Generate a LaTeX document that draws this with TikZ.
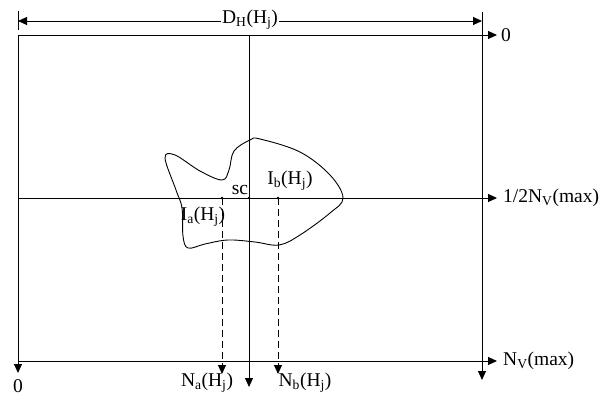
\documentclass[tikz,border=0pt]{standalone}
\usepackage{fontspec}
\setmainfont{Liberation Serif}
\usetikzlibrary{arrows.meta}
\tikzset{
  ln/.style={line width=0.9pt},
  arr/.style={ln,-{Triangle[length=9pt,width=8pt]}},
  dimarr/.style={ln,{Triangle[length=9pt,width=8pt]}-{Triangle[length=9pt,width=8pt]}},
  dsh/.style={arr,dash pattern=on 7pt off 4pt},
  lbl/.style={inner sep=0pt,font=\fontsize{19.5}{19.5}\selectfont}
}
\newcommand{\sbs}[1]{\textsubscript{#1}}
\begin{document}
\begin{tikzpicture}[x=1pt,y=-1pt]
\useasboundingbox (0,0) rectangle (608,396);
% coordinates
\coordinate (tl) at (18,35);
\coordinate (tr) at (497,35);
\coordinate (lb) at (18,373);
\coordinate (rtop) at (482,12);
\coordinate (rb) at (482,380);
\coordinate (mtop) at (249,35);
\coordinate (mb) at (249,387);
\coordinate (ml) at (18,198);
\coordinate (mr) at (497,198);
\coordinate (bl) at (18,361);
\coordinate (br) at (497,361);
\coordinate (da) at (222,198);
\coordinate (dae) at (222,374);
\coordinate (db) at (278,198);
\coordinate (dbe) at (278,374);
\coordinate (dl) at (18,21);
\coordinate (dr) at (482,21);
\coordinate (tk1) at (18,11);
\coordinate (tk2) at (18,30);
% frame lines
\draw[arr] (tl) -- (tr);
\draw[arr] (tl) -- (lb);
\draw[arr] (rtop) -- (rb);
\draw[arr] (mtop) -- (mb);
\draw[arr] (ml) -- (mr);
\draw[arr] (bl) -- (br);
\draw[ln] (tk1) -- (tk2);
\draw[dimarr] (dl) -- (dr);
\draw[dsh] (da) -- (dae);
\draw[dsh] (db) -- (dbe);
% dots
\fill (da) circle (1.3);
\fill (db) circle (1.3);
\fill (249,198) circle (1.3);
% blob
\draw[ln] plot[smooth cycle,tension=0.6] coordinates {
 (165,158) (175,155) (200,171) (222,180) (229,170) (234,151) (250,140) (260,139)
 (300,152) (330,175) (343,198) (330,213) (300,235) (279,245) (255,242) (228,240)
 (205,244) (188,248) (183,236) (182,208) (176,190)};
% labels
\node[lbl,fill=white,inner sep=1pt] (dh) at (250,20) {D\sbs{H}(H\sbs{j})};
\node[lbl,anchor=west] (z0) at (501,35) {0};
\node[lbl,anchor=west] (half) at (503,198) {1/2N\sbs{V}(max)};
\node[lbl,anchor=west] (nv) at (503,361) {N\sbs{V}(max)};
\node[lbl] (z1) at (18,386) {0};
\node[lbl] (na) at (207,383) {N\sbs{a}(H\sbs{j})};
\node[lbl] (nb) at (305,383) {N\sbs{b}(H\sbs{j})};
\node[lbl] (ia) at (203,217) {I\sbs{a}(H\sbs{j})};
\node[lbl] (ib) at (290,181) {I\sbs{b}(H\sbs{j})};
\node[lbl] (sc) at (240,190) {sc};
\end{tikzpicture}
\end{document}
